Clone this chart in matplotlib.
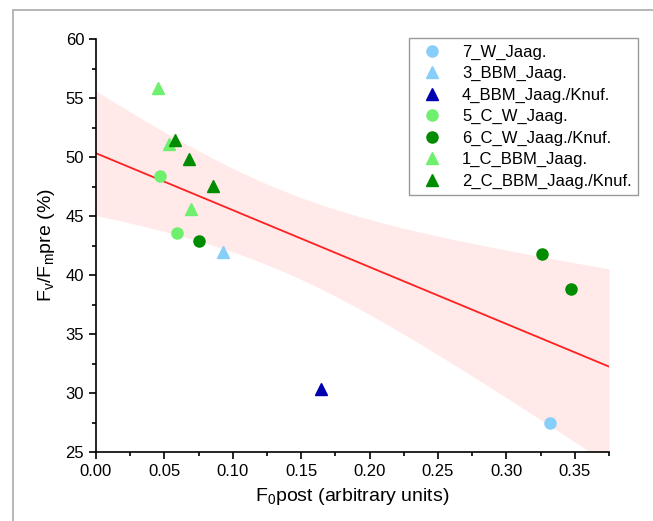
import matplotlib.pyplot as plt
import numpy as np
from matplotlib.patches import Rectangle
from matplotlib.ticker import MultipleLocator

plt.rcParams['font.family'] = ['Liberation Sans', 'DejaVu Sans']

# groups: label, marker, colour, x values, y values
labels = ["7_W_Jaag.", "3_BBM_Jaag.", "4_BBM_Jaag./Knuf.", "5_C_W_Jaag.",
          "6_C_W_Jaag./Knuf.", "1_C_BBM_Jaag.", "2_C_BBM_Jaag./Knuf."]
markers = ["o", "^", "^", "o", "o", "^", "^"]
colors = ["#87CEFA", "#87CEFA", "#0000B0", "#6EF06E", "#008C00", "#6EF06E", "#008C00"]
x_vals = [[0.3317], [0.0925], [0.1648], [0.0471, 0.0593],
          [0.0755, 0.326, 0.3473], [0.0456, 0.0535, 0.0693],
          [0.0578, 0.0683, 0.0854]]
y_vals = [[27.48], [41.93], [30.36], [48.43, 43.57],
          [42.92, 41.79, 38.79], [55.84, 51.1, 45.58],
          [51.46, 49.85, 47.6]]

fig = plt.figure(figsize=(6.53, 5.21), dpi=100)
ax = fig.add_axes([0.147, 0.1324, 0.7856, 0.7922])

# linear fit with 95% confidence band
X = np.concatenate([np.array(v) for v in x_vals])
Y = np.concatenate([np.array(v) for v in y_vals])
n = len(X)
slope, icpt = np.polyfit(X, Y, 1)
resid = Y - (icpt + slope * X)
s = np.sqrt(np.sum(resid ** 2) / (n - 2))
sxx = np.sum((X - X.mean()) ** 2)
t95 = 2.179  # t(0.975, df=12)
xf = np.linspace(0, 0.375, 200)
yf = icpt + slope * xf
half = t95 * s * np.sqrt(1 / n + (xf - X.mean()) ** 2 / sxx)
ax.fill_between(xf, yf - half, yf + half, color="#FFE9E9", lw=0, zorder=1)
ax.plot(xf, yf, color="#FF2020", lw=1.3, zorder=2)

for lab, m, c, xs, ys in zip(labels, markers, colors, x_vals, y_vals):
    ms = 8 if m == "o" else 9
    ax.plot(xs, ys, m, color=c, ms=ms, mec=c, label=lab, zorder=3)

ax.set_xlim(0, 0.375)
ax.set_ylim(25, 60)
ax.xaxis.set_major_locator(MultipleLocator(0.05))
ax.xaxis.set_minor_locator(MultipleLocator(0.025))
ax.yaxis.set_major_locator(MultipleLocator(5))
ax.yaxis.set_minor_locator(MultipleLocator(2.5))
ax.set_xticklabels([f"{v:.2f}" for v in ax.get_xticks()])
ax.tick_params(which="major", direction="out", length=5, width=1.2, labelsize=12)
ax.tick_params(which="minor", direction="out", length=3, width=1.2)
ax.spines["top"].set_visible(False)
ax.spines["right"].set_visible(False)
ax.spines["left"].set_linewidth(1.2)
ax.spines["bottom"].set_linewidth(1.2)

ax.set_xlabel(r"F$_\mathregular{0}$post (arbitrary units)", fontsize=14, labelpad=5)
ax.set_ylabel(r"F$_\mathregular{v}$/F$_\mathregular{m}$pre (%)", fontsize=14, labelpad=6)

leg = ax.legend(loc="upper left", bbox_to_anchor=(0.626, 0.927),
                bbox_transform=fig.transFigure, borderaxespad=0,
                fontsize=12, fancybox=False, edgecolor="#999999",
                framealpha=1, labelspacing=0.38, handletextpad=0.8,
                borderpad=0.4)
leg.get_frame().set_linewidth(1.0)

fig.patches.append(Rectangle((13 / 653, -0.1), 1.2, 1 - 10 / 521 + 0.1,
                             transform=fig.transFigure, fill=False,
                             edgecolor="#AAAAAA", lw=1.2))

fig.savefig("out.png", dpi=100)
